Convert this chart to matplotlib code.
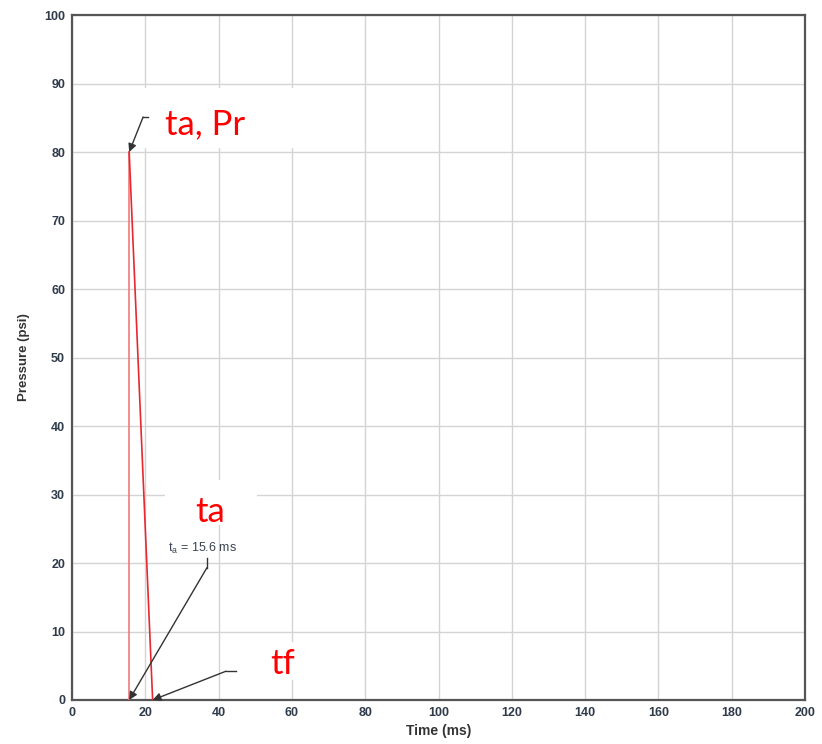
import matplotlib
matplotlib.use("Agg")
import matplotlib.pyplot as plt
from matplotlib.patches import Rectangle

# Data
time_ms = [15.6, 15.6, 22.0]
pressure_psi = [0.0, 80.0, 0.0]
x_ticks = [0, 20, 40, 60, 80, 100, 120, 140, 160, 180, 200]
y_ticks = [0, 10, 20, 30, 40, 50, 60, 70, 80, 90, 100]

fig = plt.figure(figsize=(8.22, 7.44), dpi=100)
ax = fig.add_axes([72/822, 1 - 700/744, (805-72)/822, (700-15)/744])
ax.set_xlim(0, 200)
ax.set_ylim(0, 100)
ax.set_xticks(x_ticks)
ax.set_yticks(y_ticks)
ax.grid(True, color='#d4d4d4', linewidth=1.0)
ax.set_axisbelow(True)
for s in ax.spines.values():
    s.set_color('#555555')
    s.set_linewidth(1.6)
ax.tick_params(length=0, pad=5)
for lab in ax.get_xticklabels() + ax.get_yticklabels():
    lab.set_fontfamily('Liberation Sans')
    lab.set_fontweight('bold')
    lab.set_fontsize(9)
    lab.set_color('#2f3a4a')

ax.set_xlabel('Time (ms)', fontfamily='Liberation Sans', fontweight='bold', fontsize=10, color='#333333', labelpad=4)
ax.set_ylabel('Pressure (psi)', fontfamily='Liberation Sans', fontweight='bold', fontsize=9.5, color='#333333', labelpad=10)

# White label boxes (cover grid)
for (x0, y0, w, h) in [(19.5, 80.6, 41.3, 8.7), (25.4, 25.5, 25.1, 6.6), (51.5, 2.9, 12.5, 5.6)]:
    ax.add_patch(Rectangle((x0, y0), w, h, facecolor='white', edgecolor='none', zorder=1.5))

# Pulse
ax.plot(time_ms[0:2], pressure_psi[0:2], color='#f07a7a', linewidth=1.2, zorder=3)
ax.plot(time_ms[1:3], pressure_psi[1:3], color='#e8282f', linewidth=1.2, zorder=3)

arrow_kw = dict(arrowstyle='-|>', color='#333333', lw=1.0, mutation_scale=12, shrinkA=0, shrinkB=0)

# ta, Pr arrow
ax.annotate('', xy=(time_ms[1], pressure_psi[1]), xytext=(19.4, 85.1),
            arrowprops=arrow_kw, zorder=4)
ax.plot([19.4, 20.7], [85.1, 85.1], color='#333333', lw=1.0, zorder=4)

# ta arrow
ax.annotate('', xy=(time_ms[0], pressure_psi[0]), xytext=(36.8, 19.3),
            arrowprops=arrow_kw, zorder=4)
ax.plot([36.8, 36.8], [19.3, 20.8], color='#333333', lw=1.0, zorder=4)

# tf arrow
ax.annotate('', xy=(time_ms[2], pressure_psi[2]), xytext=(42.0, 4.2),
            arrowprops=arrow_kw, zorder=4)
ax.plot([42.0, 44.7], [4.2, 4.2], color='#333333', lw=1.0, zorder=4)

ax.text(36.4, 84.1, 'ta, Pr', color='#ff0000', fontsize=25, fontfamily='Lato',
        ha='center', va='center', zorder=2)
ax.text(37.6, 27.5, 'ta', color='#ff0000', fontsize=25, fontfamily='Lato',
        ha='center', va='center', zorder=2)
ax.text(57.6, 5.2, 'tf', color='#ff0000', fontsize=25, fontfamily='Lato',
        ha='center', va='center', zorder=2)

ax.text(35.5, 22.1, r'$\mathregular{t_a}$ = 15.6 ms', color='#3a4452', fontsize=9,
        fontfamily='Liberation Sans', ha='center', va='center', zorder=4)

fig.savefig('out.png', dpi=100)
